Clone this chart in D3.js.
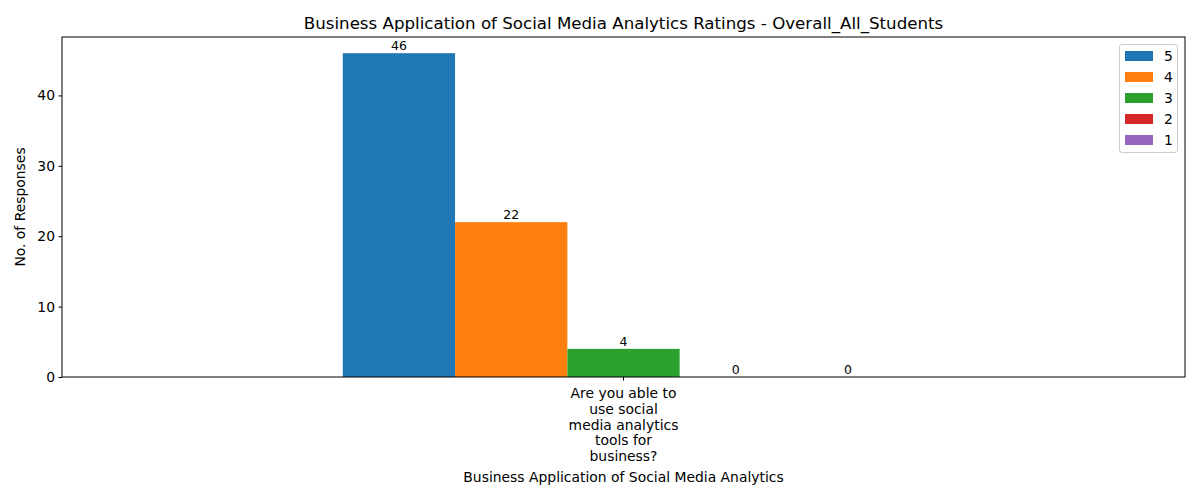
<!DOCTYPE html>
<html><head><meta charset="utf-8">
<script src="https://cdn.jsdelivr.net/npm/d3@7"></script>
<style>body{margin:0;background:#fff}text{font-family:"DejaVu Sans",sans-serif;fill:#000}</style>
</head><body><svg id="c" width="1200" height="500"></svg>
<script>
const categories = ["Are you able to use social media analytics tools for business?"];
const categoryLines = [["Are you able to","use social","media analytics","tools for","business?"]];
const ratings = ["5","4","3","2","1"];
const values = [46, 22, 4, 0, 0];
const colors = ["#1f77b4","#ff7f0e","#2ca02c","#d62728","#9467bd"];
const yTicks = [0,10,20,30,40];

const svg = d3.select("#c");
const L=62,R=1185,T=37,B=377;
const x = d3.scaleLinear().domain([-0.8,0.8]).range([L,R]);
const y = d3.scaleLinear().domain([0,48.3]).range([B,T]);
const bw = 0.16;

svg.append("g").selectAll("rect").data(values).join("rect")
  .attr("x",(d,i)=>x(-0.4+i*bw)).attr("width",(d,i)=>x(-0.4+(i+1)*bw)-x(-0.4+i*bw))
  .attr("y",d=>y(d)).attr("height",d=>y(0)-y(d)).attr("fill",(d,i)=>colors[i]);
svg.append("g").selectAll("text").data(values).join("text")
  .attr("x",(d,i)=>x(-0.4+(i+0.5)*bw)).attr("y",d=>y(d)-3)
  .attr("text-anchor","middle").attr("font-size","12.5px").text(d=>d);

svg.append("rect").attr("x",L).attr("y",T).attr("width",R-L).attr("height",B-T)
  .attr("fill","none").attr("stroke","#000").attr("stroke-width",1);

const ya = svg.append("g").attr("transform",`translate(${L},0)`)
  .call(d3.axisLeft(y).tickValues(yTicks).tickSize(3.5).tickPadding(3.5));
ya.select(".domain").remove();
ya.selectAll("text").attr("font-size","13.9px").attr("font-family","DejaVu Sans");

svg.append("line").attr("x1",x(0)).attr("x2",x(0)).attr("y1",B).attr("y2",B+3.5).attr("stroke","#000");
const tl = svg.append("text").attr("text-anchor","middle").attr("font-size","13.9px");
categoryLines[0].forEach((s,i)=>tl.append("tspan").attr("x",x(0)).attr("y",398+i*15.8).text(s));

svg.append("text").attr("x",(L+R)/2).attr("y",482).attr("text-anchor","middle").attr("font-size","13.9px").text("Business Application of Social Media Analytics");
svg.append("text").attr("transform",`translate(25,${(T+B)/2}) rotate(-90)`).attr("text-anchor","middle").attr("font-size","13.9px").text("No. of Responses");
svg.append("text").attr("x",(L+R)/2).attr("y",29).attr("text-anchor","middle").attr("font-size","16.67px").text("Business Application of Social Media Analytics Ratings - Overall_All_Students");

const lg = svg.append("g");
lg.append("rect").attr("x",1119.5).attr("y",44.5).attr("width",58).attr("height",108).attr("rx",2.5)
  .attr("fill","#fff").attr("fill-opacity",0.8).attr("stroke","#ccc");
ratings.forEach((r,i)=>{
  const cy = 56+i*21;
  lg.append("rect").attr("x",1125).attr("y",cy-5).attr("width",28).attr("height",10).attr("fill",colors[i]);
  lg.append("text").attr("x",1164).attr("y",cy+5).attr("font-size","13.9px").text(r);
});
</script></body></html>
